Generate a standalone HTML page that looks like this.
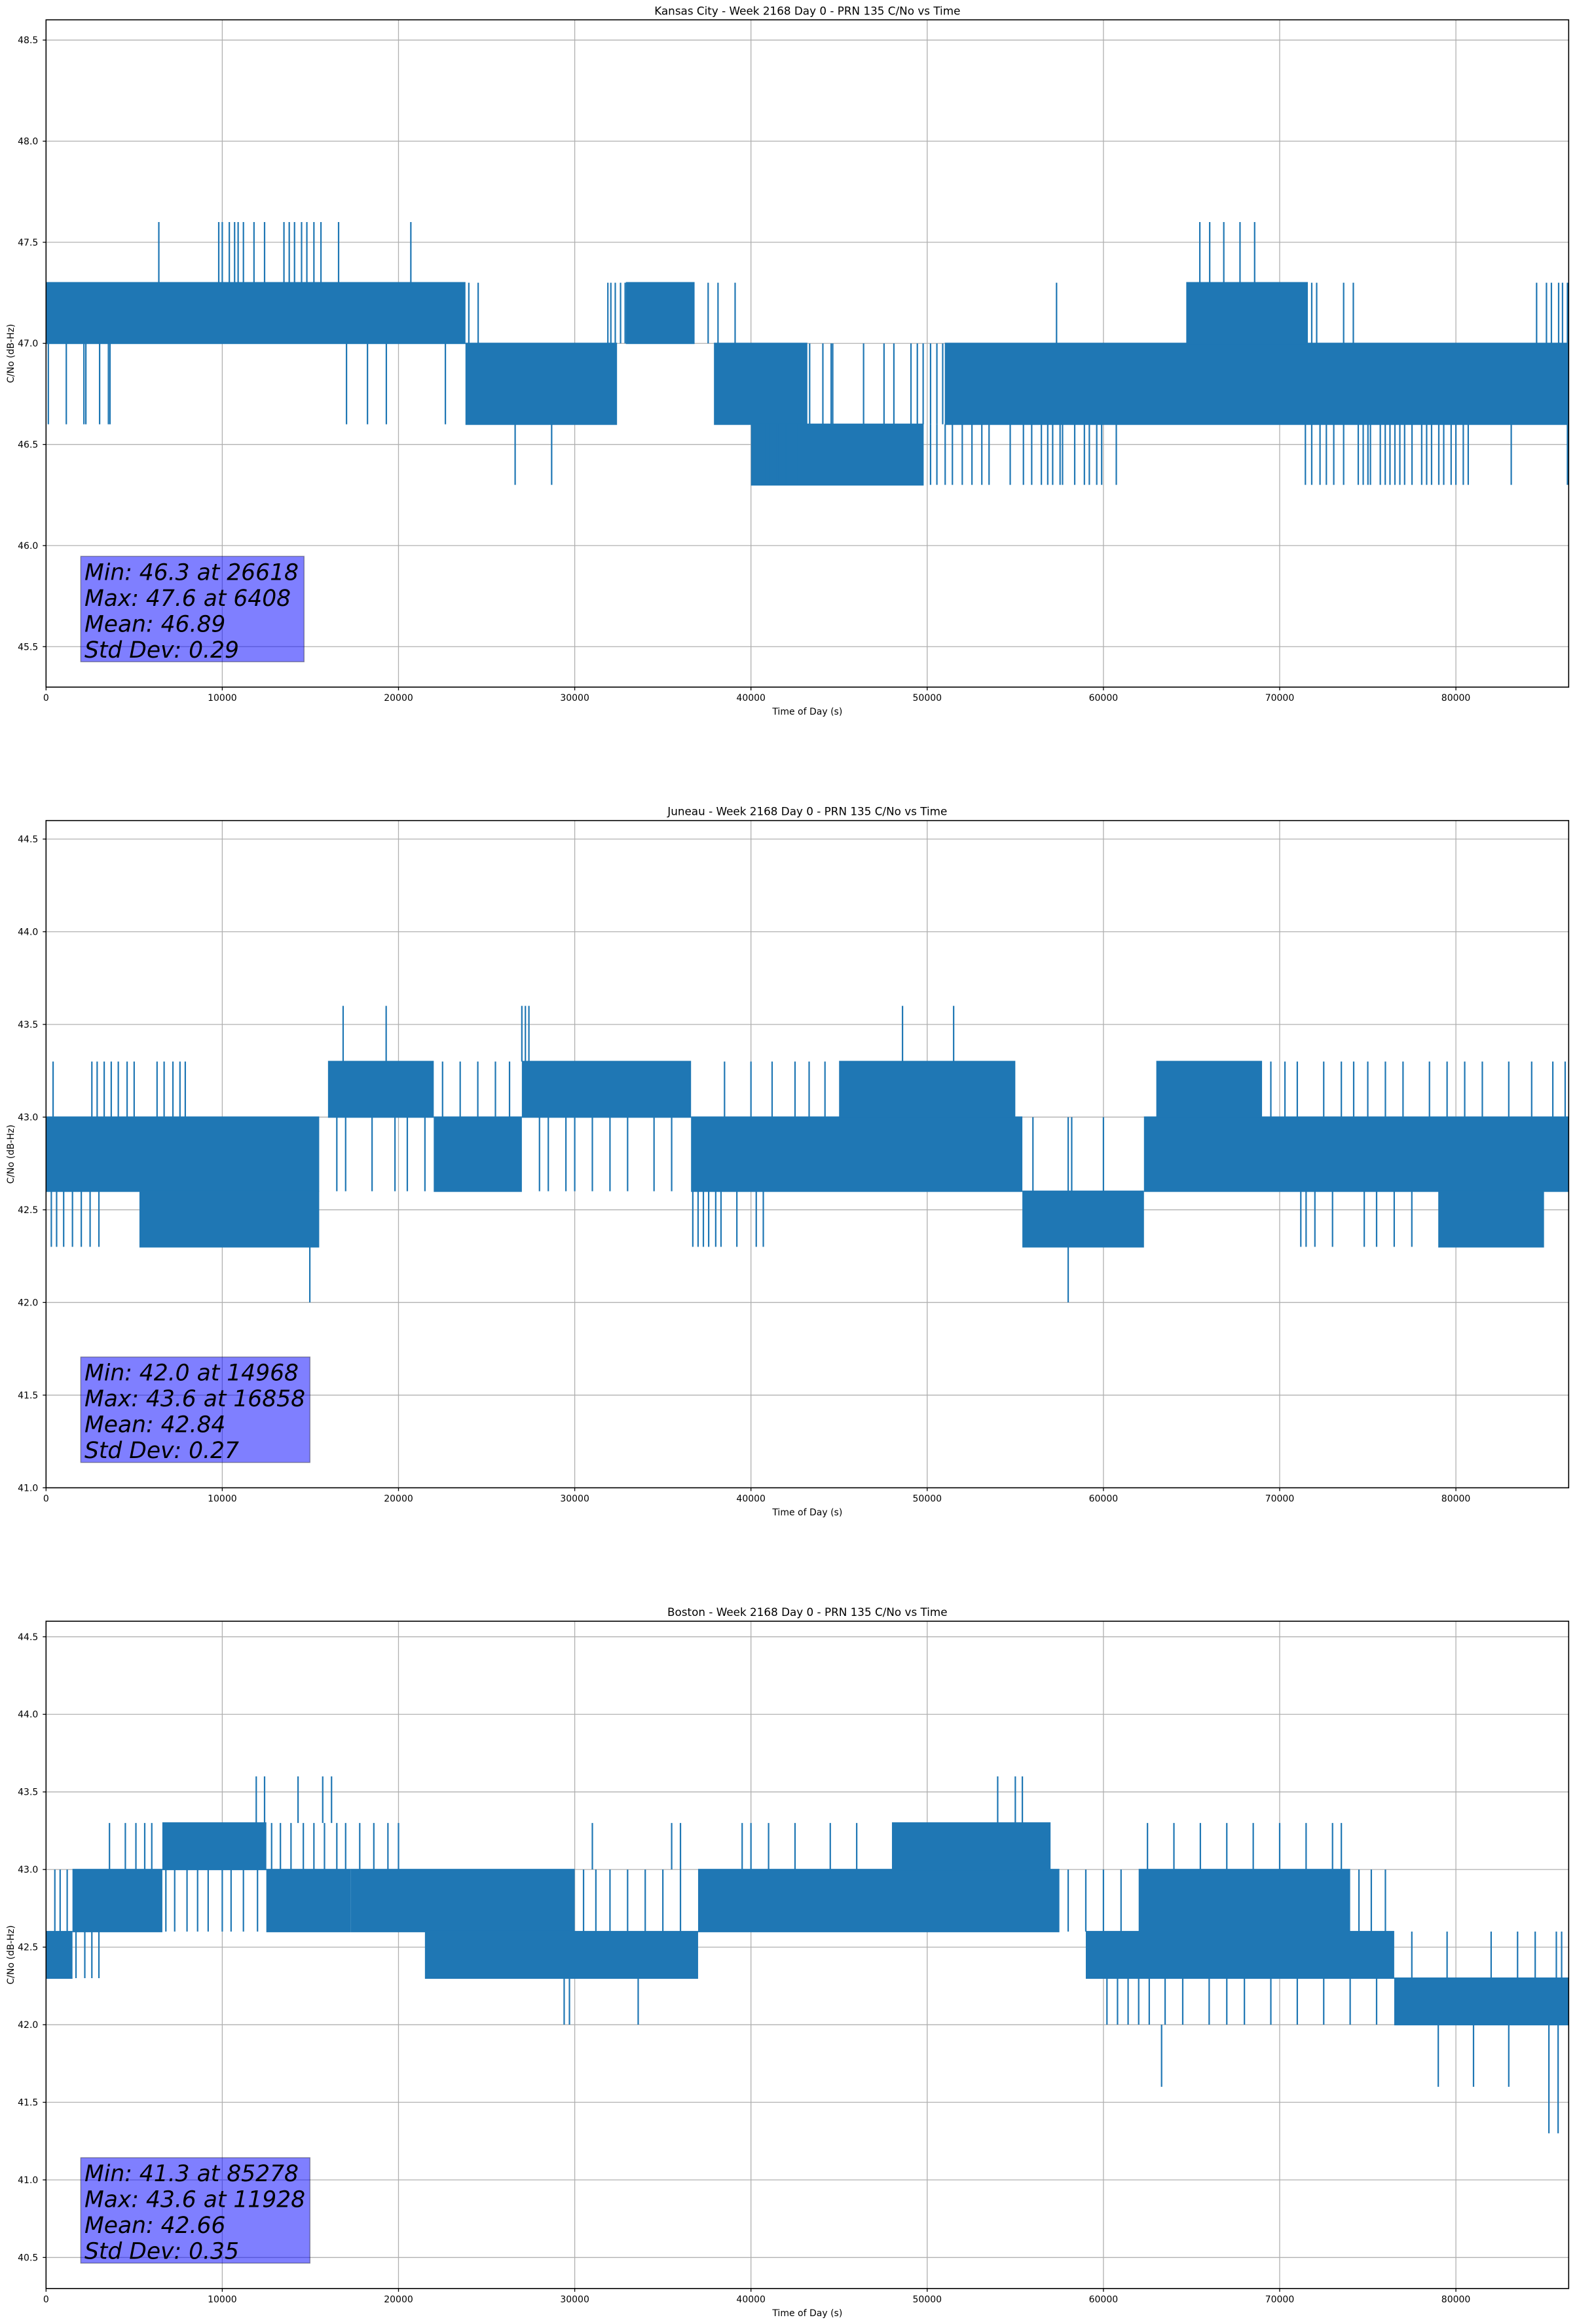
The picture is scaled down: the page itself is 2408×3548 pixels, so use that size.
<!DOCTYPE html>
<html><head><meta charset="utf-8"><title>C/No vs Time</title>
<style>
html,body{margin:0;padding:0;background:#fff;}
svg{display:block;font-family:"DejaVu Sans","Liberation Sans",sans-serif;}
</style></head>
<body>
<svg id="fig" width="2408" height="3548" viewBox="0 0 2408 3548" xmlns="http://www.w3.org/2000/svg"></svg>
<script>
// ---------- Chart data (top level) ----------
const titles = [
  "Kansas City - Week 2168 Day 0 - PRN 135 C/No vs Time",
  "Juneau - Week 2168 Day 0 - PRN 135 C/No vs Time",
  "Boston - Week 2168 Day 0 - PRN 135 C/No vs Time"
];
const yMins = [45.3, 41.0, 40.3];
const yMaxs = [48.6, 44.6, 44.6];
const xTicks = [0,10000,20000,30000,40000,50000,60000,70000,80000];
const xTickLabels = ["0","10000","20000","30000","40000","50000","60000","70000","80000"];
const statLines = [
  ["Min: 46.3 at 26618","Max: 47.6 at 6408","Mean: 46.89","Std Dev: 0.29"],
  ["Min: 42.0 at 14968","Max: 43.6 at 16858","Mean: 42.84","Std Dev: 0.27"],
  ["Min: 41.3 at 85278","Max: 43.6 at 11928","Mean: 42.66","Std Dev: 0.35"]
];

// Dense oscillation bands: start time, end time, low value, high value
const band1T0 = [0,23800,32900,37900,40000,51000,64700];
const band1T1 = [23800,32400,36800,43200,49800,86400,71600];
const band1Lo = [47.0,46.6,47.0,46.6,46.3,46.6,47.0];
const band1Hi = [47.3,47.0,47.3,47.0,46.6,47.0,47.3];

const band2T0 = [0,5300,16000,22000,27000,36600,45000,55400,62300,63000,79000];
const band2T1 = [15500,15500,22000,27000,36600,55400,55000,62300,86400,69000,85000];
const band2Lo = [42.6,42.3,43.0,42.6,43.0,42.6,43.0,42.3,42.6,43.0,42.3];
const band2Hi = [43.0,42.6,43.3,43.0,43.3,43.0,43.3,42.6,43.0,43.3,42.6];

const band3T0 = [0,1500,6600,12500,17300,21500,37000,48000,59000,62000,76500];
const band3T1 = [1500,6600,12500,17300,30000,37000,57500,57000,76500,74000,86400];
const band3Lo = [42.3,42.6,43.0,42.6,42.6,42.3,42.6,43.0,42.3,42.6,42.0];
const band3Hi = [42.6,43.0,43.3,43.0,43.0,42.6,43.0,43.3,42.6,43.0,42.3];

// Individual excursions: time, from value, to value
const spike1T = [6400,9800,10000,10400,10700,10900,11200,11800,12400,13500,13800,14100,14500,14800,15200,15600,16600,20700,
  130,1150,2150,2260,3040,3540,3630,17050,18240,19310,22660,
  23990,24520,31880,32050,32300,32600,32860,37570,38130,39100,
  26618,28690,40780,41100,41500,42000,42600,
  43330,44080,44550,44640,46390,47550,48110,49080,49440,49770,50190,50550,50880,
  50190,50550,51020,51430,51990,52540,53100,53510,54710,55460,55930,56480,56840,57120,57540,57680,58370,58920,59200,59620,59900,60730,
  57340,65470,66030,66830,67750,68580,
  71820,72100,73630,74180,84580,85140,85420,85830,86050,86330,
  71460,71820,72290,72650,73070,73630,74460,74740,75010,75150,75710,75990,76260,76540,76820,77090,77510,78060,78340,78620,79030,79310,79730,80000,80420,80700,83140,86330];
const spike1From = [47.3,47.3,47.3,47.3,47.3,47.3,47.3,47.3,47.3,47.3,47.3,47.3,47.3,47.3,47.3,47.3,47.3,47.3,
  47.0,47.0,47.0,47.0,47.0,47.0,47.0,47.0,47.0,47.0,47.0,
  47.0,47.0,47.0,47.0,47.0,47.0,47.0,47.0,47.0,47.0,
  46.6,46.6,46.6,46.6,46.6,46.6,46.6,
  46.6,46.6,46.6,46.6,46.6,46.6,46.6,46.6,46.6,46.6,46.6,46.6,46.6,
  46.6,46.6,46.6,46.6,46.6,46.6,46.6,46.6,46.6,46.6,46.6,46.6,46.6,46.6,46.6,46.6,46.6,46.6,46.6,46.6,46.6,46.6,
  47.0,47.3,47.3,47.3,47.3,47.3,
  47.0,47.0,47.0,47.0,47.0,47.0,47.0,47.0,47.0,47.0,
  46.6,46.6,46.6,46.6,46.6,46.6,46.6,46.6,46.6,46.6,46.6,46.6,46.6,46.6,46.6,46.6,46.6,46.6,46.6,46.6,46.6,46.6,46.6,46.6,46.6,46.6,46.6,46.6];
const spike1To = [47.6,47.6,47.6,47.6,47.6,47.6,47.6,47.6,47.6,47.6,47.6,47.6,47.6,47.6,47.6,47.6,47.6,47.6,
  46.6,46.6,46.6,46.6,46.6,46.6,46.6,46.6,46.6,46.6,46.6,
  47.3,47.3,47.3,47.3,47.3,47.3,47.3,47.3,47.3,47.3,
  46.3,46.3,46.3,46.3,46.3,46.3,46.3,
  47.0,47.0,47.0,47.0,47.0,47.0,47.0,47.0,47.0,47.0,47.0,47.0,47.0,
  46.3,46.3,46.3,46.3,46.3,46.3,46.3,46.3,46.3,46.3,46.3,46.3,46.3,46.3,46.3,46.3,46.3,46.3,46.3,46.3,46.3,46.3,
  47.3,47.6,47.6,47.6,47.6,47.6,
  47.3,47.3,47.3,47.3,47.3,47.3,47.3,47.3,47.3,47.3,
  46.3,46.3,46.3,46.3,46.3,46.3,46.3,46.3,46.3,46.3,46.3,46.3,46.3,46.3,46.3,46.3,46.3,46.3,46.3,46.3,46.3,46.3,46.3,46.3,46.3,46.3,46.3,46.3];

const spike2T = [400,2600,2900,3300,3700,4100,4600,5000,6300,6700,7200,7600,7900,
  300,600,1000,1500,2000,2500,3000,
  16858,19300,27000,27200,27400,48600,51500,
  14968,58000,
  16500,17000,18500,19800,20500,21500,
  22500,23500,24500,25500,26300,
  28000,28500,29500,30000,31000,32000,33000,34500,35500,
  38500,40000,41200,42500,43300,44200,
  36700,37000,37300,37600,38000,38300,39200,40300,40700,
  56000,58000,58200,60000,
  69500,70300,71000,72500,73500,74200,75000,76000,77000,78500,79500,80500,81500,83000,84300,85500,86200,
  71200,71500,72000,73000,74800,75500,76500,77500];
const spike2From = [43.0,43.0,43.0,43.0,43.0,43.0,43.0,43.0,43.0,43.0,43.0,43.0,43.0,
  42.6,42.6,42.6,42.6,42.6,42.6,42.6,
  43.3,43.3,43.3,43.3,43.3,43.3,43.3,
  42.3,42.3,
  43.0,43.0,43.0,43.0,43.0,43.0,
  43.0,43.0,43.0,43.0,43.0,
  43.0,43.0,43.0,43.0,43.0,43.0,43.0,43.0,43.0,
  43.0,43.0,43.0,43.0,43.0,43.0,
  42.6,42.6,42.6,42.6,42.6,42.6,42.6,42.6,42.6,
  42.6,42.6,42.6,42.6,
  43.0,43.0,43.0,43.0,43.0,43.0,43.0,43.0,43.0,43.0,43.0,43.0,43.0,43.0,43.0,43.0,43.0,
  42.6,42.6,42.6,42.6,42.6,42.6,42.6,42.6];
const spike2To = [43.3,43.3,43.3,43.3,43.3,43.3,43.3,43.3,43.3,43.3,43.3,43.3,43.3,
  42.3,42.3,42.3,42.3,42.3,42.3,42.3,
  43.6,43.6,43.6,43.6,43.6,43.6,43.6,
  42.0,42.0,
  42.6,42.6,42.6,42.6,42.6,42.6,
  43.3,43.3,43.3,43.3,43.3,
  42.6,42.6,42.6,42.6,42.6,42.6,42.6,42.6,42.6,
  43.3,43.3,43.3,43.3,43.3,43.3,
  42.3,42.3,42.3,42.3,42.3,42.3,42.3,42.3,42.3,
  43.0,43.0,43.0,43.0,
  43.3,43.3,43.3,43.3,43.3,43.3,43.3,43.3,43.3,43.3,43.3,43.3,43.3,43.3,43.3,43.3,43.3,
  42.3,42.3,42.3,42.3,42.3,42.3,42.3,42.3];

const spike3T = [500,800,1200,
  1700,2200,2600,3000,
  3600,4500,5100,5600,6000,12800,13300,13900,14600,15200,15800,16500,17000,17800,18600,19400,20000,
  11928,12400,14300,15700,16200,54000,55000,55400,
  6800,7300,8000,8600,9200,10000,10500,11200,12000,
  29400,29700,33600,
  31000,35500,36000,39500,40000,41000,42500,44500,46000,
  30500,31200,32000,33000,34000,35000,36000,
  58000,59000,60000,61000,
  60200,60800,61400,62000,62600,63500,64500,66000,67000,68000,69500,71000,72500,74000,75500,
  63300,
  74500,75200,76000,
  62500,64000,65500,67000,68500,70000,71500,73000,73500,
  77500,79500,82000,83500,84500,85700,86000,
  79000,81000,83000,85278,85800];
const spike3From = [42.6,42.6,42.6,
  42.6,42.6,42.6,42.6,
  43.0,43.0,43.0,43.0,43.0,43.0,43.0,43.0,43.0,43.0,43.0,43.0,43.0,43.0,43.0,43.0,43.0,
  43.3,43.3,43.3,43.3,43.3,43.3,43.3,43.3,
  43.0,43.0,43.0,43.0,43.0,43.0,43.0,43.0,43.0,
  42.3,42.3,42.3,
  43.0,43.0,43.0,43.0,43.0,43.0,43.0,43.0,43.0,
  42.6,42.6,42.6,42.6,42.6,42.6,42.6,
  42.6,42.6,42.6,42.6,
  42.3,42.3,42.3,42.3,42.3,42.3,42.3,42.3,42.3,42.3,42.3,42.3,42.3,42.3,42.3,
  42.0,
  42.6,42.6,42.6,
  43.0,43.0,43.0,43.0,43.0,43.0,43.0,43.0,43.0,
  42.3,42.3,42.3,42.3,42.3,42.3,42.3,
  42.0,42.0,42.0,42.0,42.0];
const spike3To = [43.0,43.0,43.0,
  42.3,42.3,42.3,42.3,
  43.3,43.3,43.3,43.3,43.3,43.3,43.3,43.3,43.3,43.3,43.3,43.3,43.3,43.3,43.3,43.3,43.3,
  43.6,43.6,43.6,43.6,43.6,43.6,43.6,43.6,
  42.6,42.6,42.6,42.6,42.6,42.6,42.6,42.6,42.6,
  42.0,42.0,42.0,
  43.3,43.3,43.3,43.3,43.3,43.3,43.3,43.3,43.3,
  43.0,43.0,43.0,43.0,43.0,43.0,43.0,
  43.0,43.0,43.0,43.0,
  42.0,42.0,42.0,42.0,42.0,42.0,42.0,42.0,42.0,42.0,42.0,42.0,42.0,42.0,42.0,
  41.6,
  43.0,43.0,43.0,
  43.3,43.3,43.3,43.3,43.3,43.3,43.3,43.3,43.3,
  42.6,42.6,42.6,42.6,42.6,42.6,42.6,
  41.6,41.6,41.6,41.3,41.3];

// ---------- Rendering ----------
const NS = "http://www.w3.org/2000/svg";
const fig = document.getElementById("fig");
const AX_L = 70.3, AX_W = 2325, AX_H = 1018.7, TOP0 = 30.3, STEP = 1222.4, XMAX = 86400;
const BLUE = "#1f77b4";

function mk(tag, attrs, parent) {
  const e = document.createElementNS(NS, tag);
  for (const k in attrs) e.setAttribute(k, attrs[k]);
  (parent || fig).appendChild(e);
  return e;
}

const bandSets = [
  [band1T0, band1T1, band1Lo, band1Hi],
  [band2T0, band2T1, band2Lo, band2Hi],
  [band3T0, band3T1, band3Lo, band3Hi]
];
const spikeSets = [
  [spike1T, spike1From, spike1To],
  [spike2T, spike2From, spike2To],
  [spike3T, spike3From, spike3To]
];

for (let c = 0; c < 3; c++) {
  const top = TOP0 + c * STEP;
  const bottom = top + AX_H;
  const yMin = yMins[c], yMax = yMaxs[c];
  const xS = t => AX_L + (t / XMAX) * AX_W;
  const yS = v => bottom - ((v - yMin) / (yMax - yMin)) * AX_H;

  const g = mk("g", {});
  
  

  const title = mk("text", {x: AX_L + AX_W / 2, y: top - 8, "font-size": 16.8, "text-anchor": "middle", fill: "#000"}, g);
  title.textContent = titles[c];
  
  

  const grid = mk("g", {stroke: "#b0b0b0", "stroke-width": 1.3}, g);
  
  
  for (let i = 0; i < xTicks.length; i++) {
    const x = xS(xTicks[i]);
    mk("line", {x1: x, x2: x, y1: top, y2: bottom}, grid);
  }
  const yTicks = [];
  for (let v = Math.ceil(yMin * 2 - 1e-9) / 2; v <= yMax + 1e-9; v += 0.5) yTicks.push(v);
  yTicks.forEach(v => { const y = yS(v); mk("line", {x1: AX_L, x2: AX_L + AX_W, y1: y, y2: y}, grid); });

  const series = mk("g", {fill: BLUE, stroke: BLUE}, g);
  
  
  const [bT0, bT1, bLo, bHi] = bandSets[c];
  for (let i = 0; i < bT0.length; i++) {
    const r = mk("rect", {x: xS(bT0[i]), y: yS(bHi[i]) - 1, width: xS(bT1[i]) - xS(bT0[i]), height: yS(bLo[i]) - yS(bHi[i]) + 2, stroke: "none"}, series);
    
    
  }
  const [sT, sF, sTo] = spikeSets[c];
  for (let i = 0; i < sT.length; i++) {
    const x = xS(sT[i]);
    const l = mk("line", {x1: x, x2: x, y1: yS(sF[i]), y2: yS(sTo[i]), "stroke-width": 2.2}, series);
    
    
  }

  const frame = mk("rect", {x: AX_L, y: top, width: AX_W, height: AX_H, fill: "none", stroke: "#000", "stroke-width": 1.6}, g);
  
  

  const xAxis = mk("g", {"font-size": 14, fill: "#000"}, g);
  
  
  for (let i = 0; i < xTicks.length; i++) {
    const x = xS(xTicks[i]);
    mk("line", {x1: x, x2: x, y1: bottom, y2: bottom + 5, stroke: "#000", "stroke-width": 1.3}, xAxis);
    const t = mk("text", {x: x, y: bottom + 21, "text-anchor": "middle"}, xAxis);
    t.textContent = xTickLabels[i];
    
    
  }
  const xl = mk("text", {x: AX_L + AX_W / 2, y: bottom + 42, "text-anchor": "middle", "font-size": 14}, g);
  xl.textContent = "Time of Day (s)";
  
  

  const yAxis = mk("g", {"font-size": 14, fill: "#000"}, g);
  
  
  yTicks.forEach(v => {
    const y = yS(v);
    mk("line", {x1: AX_L - 5, x2: AX_L, y1: y, y2: y, stroke: "#000", "stroke-width": 1.3}, yAxis);
    const t = mk("text", {x: AX_L - 12, y: y + 5, "text-anchor": "end"}, yAxis);
    t.textContent = v.toFixed(1);
    
    
  });
  const yl = mk("text", {x: 0, y: 0, "text-anchor": "middle", "font-size": 14, transform: `translate(21 ${(top + bottom) / 2}) rotate(-90)`}, g);
  yl.textContent = "C/No (dB-Hz)";
  
  

  const boxTop = top + 819, boxH = 161;
  const boxW = c === 0 ? 341 : 350;
  const sb = mk("g", {}, g);
  
  
  mk("rect", {x: 123.3, y: boxTop, width: boxW, height: boxH, fill: "#0000ff", "fill-opacity": 0.5, stroke: "#000", "stroke-opacity": 0.35, "stroke-width": 1.5}, sb);
  statLines[c].forEach((s, i) => {
    const t = mk("text", {x: 129, y: boxTop + 36 + i * 39.5, "font-size": 34.5, "font-style": "italic", fill: "#000"}, sb);
    t.textContent = s;
    
    
  });
}
</script>
</body></html>
